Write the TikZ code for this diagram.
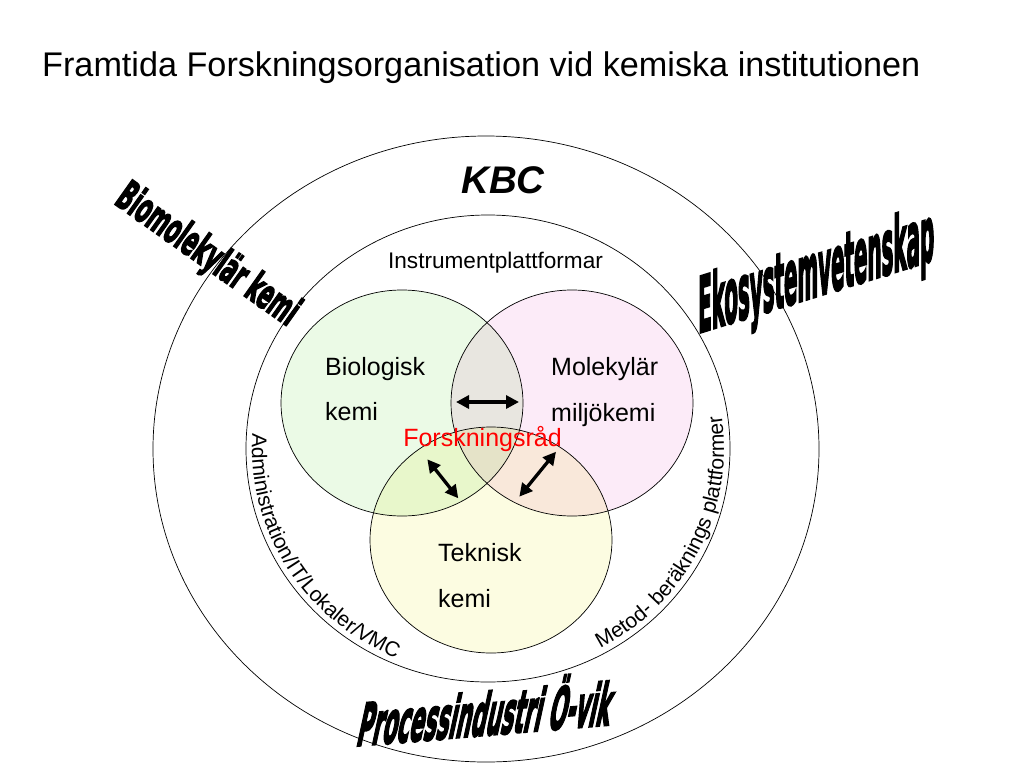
\documentclass[tikz,border=0pt]{standalone}
\usepackage{fontspec}
\setmainfont{Liberation Sans}
\newfontfamily\wordartfont{DejaVu Sans Condensed Bold}[FakeBold=4]
\usetikzlibrary{shapes.geometric,arrows.meta,decorations.text}
\definecolor{biogreen}{RGB}{235,250,230}
\definecolor{molpink}{RGB}{252,235,248}
\definecolor{tekyellow}{RGB}{252,252,225}
\definecolor{biomol}{RGB}{232,230,224}
\definecolor{biotek}{RGB}{232,247,203}
\definecolor{moltek}{RGB}{249,232,218}
\definecolor{alltre}{RGB}{229,227,200}
\def\biopath{(402,403) ellipse [x radius=121, y radius=113]}
\def\molpath{(572,403) ellipse [x radius=121, y radius=113]}
\def\tekpath{(491,540) ellipse [x radius=121, y radius=113]}

\begin{document}
\begin{tikzpicture}[x=1pt, y=-1pt,
    ring/.style={draw=black, line width=0.7pt, ellipse, inner sep=0pt},
    venntext/.style={font=\fontsize{25}{30}\selectfont, anchor=base west, inner sep=0pt},
    wordart/.style={font=\wordartfont, anchor=base west, inner sep=0pt},
    link/.style={line width=3.3pt, >={Triangle[length=13pt,width=13pt]}, <->}]
    \useasboundingbox (0,0) rectangle (1024,768);
    \fill[white] (0,0) rectangle (1024,768);

    % Title
    \node[anchor=base west, inner sep=0pt, font=\fontsize{34.2}{41}\selectfont] (title) at (42,77)
        {Framtida Forskningsorganisation vid kemiska institutionen};

    % Rings
    \node[ring, minimum width=666, minimum height=626] (kbc) at (486,449) {};
    \node[ring, minimum width=484, minimum height=467] (plattform) at (488,448.5) {};

    % Venn fills
    \fill[biogreen] \biopath;
    \fill[molpink] \molpath;
    \fill[tekyellow] \tekpath;
    \begin{scope}
        \clip \biopath;
        \fill[biomol] \molpath;
        \fill[biotek] \tekpath;
    \end{scope}
    \begin{scope}
        \clip \molpath;
        \fill[moltek] \tekpath;
    \end{scope}
    \begin{scope}
        \clip \biopath;
        \clip \molpath;
        \fill[alltre] \tekpath;
    \end{scope}
    \node[ring, minimum width=242, minimum height=226] (bio) at (402,403) {};
    \node[ring, minimum width=242, minimum height=226] (mol) at (572,403) {};
    \node[ring, minimum width=242, minimum height=226] (tek) at (491,540) {};

    % Labels
    \node[anchor=base, inner sep=0pt, font=\fontsize{38.5}{46}\selectfont\bfseries\itshape] (kbclbl) at (503,193) {KBC};
    \node[anchor=base, inner sep=0pt, font=\fontsize{22.6}{27}\selectfont] (instr) at (495.5,268) {Instrumentplattformar};
    \node[venntext] (biolbl) at (325,375) {Biologisk};
    \node[venntext] (biolbl2) at (325,420) {kemi};
    \node[venntext] (mollbl) at (551,375) {Molekylär};
    \node[venntext] (mollbl2) at (551,421) {miljökemi};
    \node[venntext] (teklbl) at (438,561) {Teknisk};
    \node[venntext] (teklbl2) at (438,607) {kemi};
    \node[anchor=base, inner sep=0pt, text=red, font=\fontsize{25}{30}\selectfont] (rad) at (482.5,446.7) {Forskningsråd};

    % Arrows
    \coordinate (bm1) at (456,402);
    \coordinate (bm2) at (519,402);
    \coordinate (bt1) at (427.3,459.3);
    \coordinate (bt2) at (458.3,498.3);
    \coordinate (mt1) at (556,451.7);
    \coordinate (mt2) at (519.3,496.7);
    \draw[link] (bm1) -- (bm2);
    \draw[link] (bt1) -- (bt2);
    \draw[link] (mt1) -- (mt2);

    % Curved texts
    \path[decorate, decoration={text along path, text align=center,
        text={|\fontsize{21}{25}\selectfont|Administration/IT/Lokaler/VMC}}]
        (488,448.5) ++(193.5:236 and 227.5) arc[start angle=193.5, end angle=103.5, x radius=236, y radius=227.5];
    \path[decorate, decoration={text along path, text align=center,
        text={|\fontsize{21}{25}\selectfont|Metod- beräknings plattformer}}]
        (488,448.5) ++(71.5:236 and 227.5) arc[start angle=71.5, end angle=-18.5, x radius=236, y radius=227.5];

    % Wordart
    \node[wordart, rotate=-35.3] (biomolt) at (113,203) {\resizebox{214pt}{32pt}{Biomolekylär kemi}};
    \node[wordart, yslant=0.31] (eko) at (698,333) {\resizebox{236pt}{58pt}{Ekosystemvetenskap}};
    \node[wordart, yslant=0.083, xslant=0.22] (proc) at (355,746) {\resizebox{253pt}{44pt}{Processindustri \smash{Ö}-vik}};
\end{tikzpicture}
\end{document}
